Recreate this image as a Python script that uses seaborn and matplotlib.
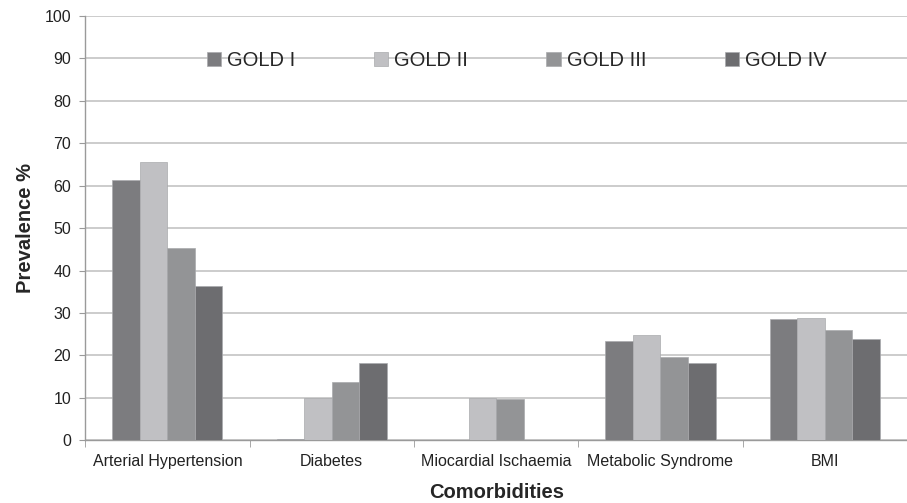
import numpy as np
import pandas as pd
import seaborn as sns
import matplotlib.pyplot as plt

# Data
categories = ['Arterial Hypertension', 'Diabetes', 'Miocardial Ischaemia',
              'Metabolic Syndrome', 'BMI']
stages = ['GOLD I', 'GOLD II', 'GOLD III', 'GOLD IV']
gold1 = [61.3, 0.3, 0.0, 23.3, 28.5]
gold2 = [65.6, 10.0, 10.0, 24.7, 28.8]
gold3 = [45.2, 13.7, 9.8, 19.5, 25.9]
gold4 = [36.3, 18.3, 0.0, 18.3, 23.9]
colors = ['#7b7c80', '#bfc0c4', '#939497', '#6c6d71']

rows = []
for stage, vals in zip(stages, [gold1, gold2, gold3, gold4]):
    for cat, v in zip(categories, vals):
        rows.append({'Comorbidities': cat, 'Stage': stage, 'Prevalence': v})
df = pd.DataFrame(rows)

sns.set_style('white')
plt.rcParams['font.family'] = ['Liberation Sans', 'DejaVu Sans']

fig = plt.figure(figsize=(9.07, 5.03), dpi=100)
ax = fig.add_axes([0.094, 0.125, 0.906, 0.843])

sns.barplot(data=df, x='Comorbidities', y='Prevalence', hue='Stage',
            hue_order=stages, palette=colors, width=0.67, gap=0,
            edgecolor='#a9aaad', linewidth=0.5, ax=ax, zorder=3)

ax.set_ylim(0, 100)
ax.set_xlim(-0.5, len(categories) - 0.5)
ax.set_yticks(np.arange(0, 101, 10))
ax.yaxis.grid(True, color='#c4c4c4', linewidth=1.2, zorder=0)
ax.set_axisbelow(True)

for side in ['top', 'right']:
    ax.spines[side].set_visible(False)
for side in ['left', 'bottom']:
    ax.spines[side].set_color('#9a9a9a')
    ax.spines[side].set_linewidth(1.0)

ax.tick_params(axis='y', left=True, length=4, color='#9a9a9a',
               labelsize=11.5, labelcolor='#222222', pad=6)
ax.tick_params(axis='x', which='major', length=0, labelsize=11.5,
               labelcolor='#222222', pad=10)
ax.set_xticks(np.arange(-0.5, len(categories) + 0.5, 1), minor=True)
ax.tick_params(axis='x', which='minor', bottom=True, length=5, color='#9a9a9a')

ax.set_xlabel('Comorbidities', fontsize=14.5, fontweight='bold', labelpad=10)
ax.set_ylabel('Prevalence %', fontsize=14.5, fontweight='bold', labelpad=7)

ax.legend(loc='upper center', bbox_to_anchor=(0.525, 0.96), ncol=4,
          frameon=False, fontsize=14.5, handlelength=0.7, handleheight=0.7,
          handletextpad=0.3, columnspacing=3.9)

fig.savefig('out.png', dpi=100)
